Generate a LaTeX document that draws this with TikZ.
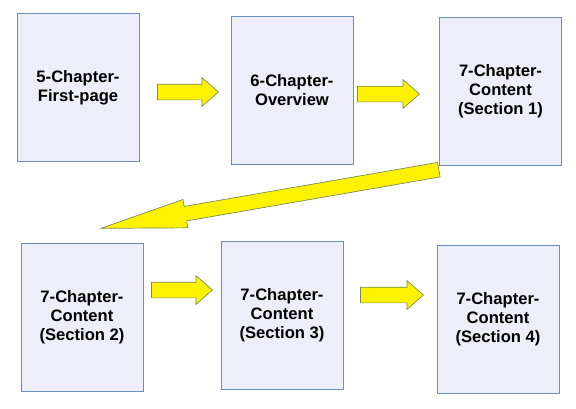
\documentclass[tikz,border=0pt]{standalone}
\usepackage{fontspec}
\setmainfont{Liberation Sans}
\usetikzlibrary{shapes.arrows}
\definecolor{pagefill}{RGB}{238,238,250}
\definecolor{pageline}{RGB}{110,140,190}
\definecolor{arrowline}{RGB}{120,140,90}
\tikzset{
  page/.style={draw=pageline, fill=pagefill, line width=0.8pt,
    minimum width=122pt, minimum height=148pt, inner sep=0pt,
    align=center, font=\fontsize{16.6}{19}\selectfont\bfseries},
  fatarrow/.style={single arrow, draw=arrowline, fill=yellow, line width=0.7pt,
    inner xsep=0pt, inner ysep=7.5pt, single arrow head extend=6.5pt,
    single arrow tip angle=82, minimum height=#1, anchor=tip},
}
\begin{document}
\begin{tikzpicture}[x=1pt,y=-1pt]
  \useasboundingbox (0,0) rectangle (576,408);
  % pages
  \node[page] (first) at (78,87.5) {5-Chapter-\\First-page};
  \node[page] (overview) at (292,90) {6-Chapter-\\Overview};
  \node[page] (sec1) at (500.5,91) {7-Chapter-\\Content\\(Section 1)};
  \node[page] (sec2) at (82,317) {7-Chapter-\\Content\\(Section 2)};
  \node[page] (sec3) at (282,315) {7-Chapter-\\Content\\(Section 3)};
  \node[page] (sec4) at (498,319) {7-Chapter-\\Content\\(Section 4)};
  % block arrows
  \node[fatarrow=61pt] (a1) at (219,92) {};
  \node[fatarrow=62pt] (a2) at (420,94) {};
  \node[fatarrow=343pt, inner ysep=7pt, single arrow head extend=7pt,
    single arrow tip angle=19, rotate=189.85] (a3) at (98.8,228.7) {};
  \node[fatarrow=61pt] (a4) at (213,290) {};
  \node[fatarrow=63pt] (a5) at (424,295) {};
\end{tikzpicture}
\end{document}
